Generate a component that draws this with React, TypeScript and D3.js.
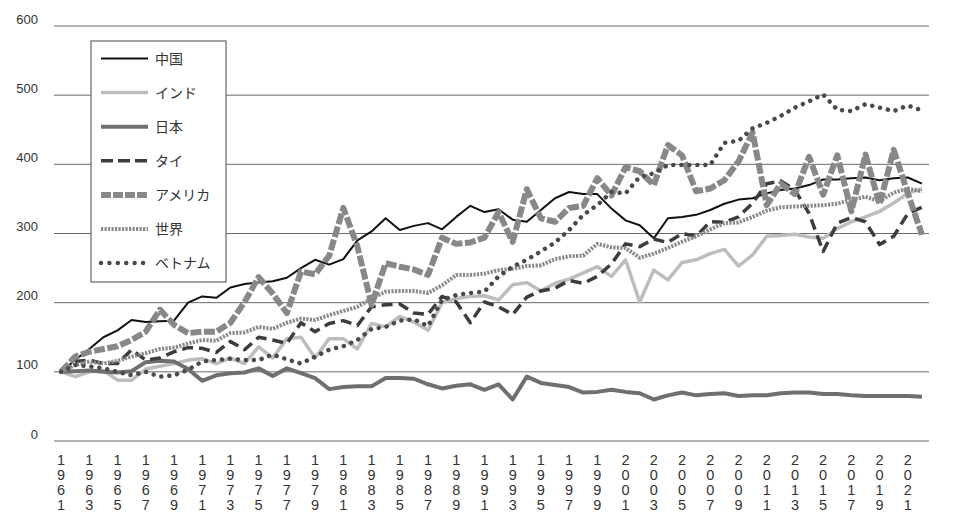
import React from "react";
import * as d3 from "d3";

const years: number[] = d3.range(1961, 2023);
const yTicks = [0, 100, 200, 300, 400, 500, 600];

const china = [100,117,133,150,160,175,172,173,174,200, 209,207,222,227,229,231,236,250,262,255, 263,290,303,322,305,311,315,306,324,340, 331,335,320,317,334,351,360,357,357,336, 319,312,293,322,324,327,334,343,349,351, 358,363,365,370,378,378,380,381,377,380, 381,372];
const india = [100,93,100,102,88,88,104,108,112,117, 119,112,120,112,136,120,148,150,120,148, 148,133,170,165,180,172,160,200,206,209, 210,204,226,229,217,228,234,243,252,238, 262,201,247,233,258,262,271,277,253,269, 296,297,299,295,293,307,317,324,332,344, 358,365];
const japan = [100,101,102,100,99,101,114,116,115,104, 87,95,98,99,105,94,105,98,91,75, 78,79,79,91,91,90,82,76,80,82, 74,82,60,93,84,81,78,70,71,74, 71,69,60,66,70,66,68,69,65,66, 66,69,70,70,68,68,66,65,65,65, 65,64];
const thailand = [100,115,117,112,112,132,117,120,129,135, 134,128,144,132,150,146,141,171,158,170, 174,167,194,197,198,185,183,209,201,171, 201,194,183,208,217,221,232,228,238,256, 285,281,292,287,300,296,317,316,324,344, 372,376,363,329,274,315,323,317,284,296, 329,338];
const usa = [100,122,129,133,137,146,158,190,168,156, 158,158,171,201,237,213,185,245,241,268, 337,281,197,257,252,248,240,294,285,287, 294,331,288,364,322,317,337,340,380,355, 396,390,370,428,413,361,365,377,404,446, 341,372,357,411,356,413,332,414,342,421, 358,298];
const world = [100,110,115,112,116,122,127,133,135,141, 146,145,156,157,165,162,171,177,175,182, 188,194,206,216,217,217,214,225,240,240, 242,247,249,253,254,263,267,268,285,280, 279,265,271,279,288,296,306,315,316,324, 333,338,339,340,341,343,349,353,347,359, 365,361];
const vietnam = [100,110,108,105,100,95,100,93,95,103, 115,117,119,117,117,125,118,112,122,132, 137,146,162,165,174,176,166,204,211,214, 216,238,252,262,274,287,305,327,341,360, 358,382,387,399,399,399,399,431,434,452, 460,470,482,491,501,479,477,487,482,477, 485,478];

const seriesNames = ["中国", "インド", "日本", "タイ", "アメリカ", "世界", "ベトナム"];
const seriesData = [china, india, japan, thailand, usa, world, vietnam];

type Style = { color: string; width: number; dash?: string; cap?: string; legendDash?: string };
const styles: Style[] = [
  { color: "#111111", width: 2 },
  { color: "#bdbdbd", width: 3.5 },
  { color: "#6f6f6f", width: 4 },
  { color: "#3c3c3c", width: 3.5, dash: "11 6", legendDash: "12 5" },
  { color: "#888888", width: 6, dash: "11 2.5", legendDash: "10 2" },
  { color: "#8a8a8a", width: 4, dash: "2.2 1.3", legendDash: "2.2 1.3" },
  { color: "#4a4a4a", width: 4.5, dash: "0.01 8", cap: "round", legendDash: "0.01 8.4" },
];

export default function App() {
  const W = 959, H = 521;
  const x = d3.scaleBand<number>().domain(years).range([54, 929]).padding(0);
  const cx = (yr: number) => (x(yr) as number) + x.bandwidth() / 2;
  const y = d3.scaleLinear().domain([0, 600]).range([441, 26]);
  const line = d3.line<number>().x((_, i) => cx(years[i])).y((v) => y(v));

  const legX = 91, legY = 41, legW = 135, legH = 241;
  const rowY = (i: number) => 58.5 + i * 34.1;

  return (
    <svg width={W} height={H} style={{ position: "absolute", left: 0, top: 0, background: "#fff" }}>
      <rect x={0} y={0} width={W} height={H} fill="#fff" />
      {yTicks.map((t) => (
        <g key={t}>
          <line x1={54} x2={929} y1={y(t)} y2={y(t)} stroke="#6a6a6a" strokeWidth={1} />
          <text x={38} y={y(t) - 2.5} textAnchor="end" fontFamily="'Liberation Sans', Arial, sans-serif" fontSize={13} fill="#333">{t}</text>
        </g>
      ))}
      {years.filter((yr) => yr % 2 === 1).map((yr) => (
        <text key={yr} x={cx(yr)} textAnchor="middle" fontFamily="'Liberation Sans', Arial, sans-serif" fontSize={14.5} fill="#333">
          {String(yr).split("").map((ch, k) => (
            <tspan key={k} x={cx(yr)} y={465 + k * 15}>{ch}</tspan>
          ))}
        </text>
      ))}
      {seriesData.map((d, i) => {
        const s = styles[i];
        return (
          <path key={i} d={line(d) || ""} fill="none" stroke={s.color} strokeWidth={s.width}
            strokeDasharray={s.dash} strokeLinecap={(s.cap as any) || "butt"} strokeLinejoin="round" />
        );
      })}
      <rect x={legX} y={legY} width={legW} height={legH} fill="#fff" stroke="#666" strokeWidth={1.2} />
      {seriesNames.map((n, i) => {
        const s = styles[i];
        return (
          <g key={n}>
            <line x1={101} x2={148} y1={rowY(i)} y2={rowY(i)} stroke={s.color} strokeWidth={s.width}
              strokeDasharray={s.legendDash} strokeLinecap={(s.cap as any) || "butt"} />
            <text x={155} y={rowY(i) + 5} fontFamily="'Noto Sans CJK JP', sans-serif" fontSize={14} fill="#333">{n}</text>
          </g>
        );
      })}
    </svg>
  );
}
